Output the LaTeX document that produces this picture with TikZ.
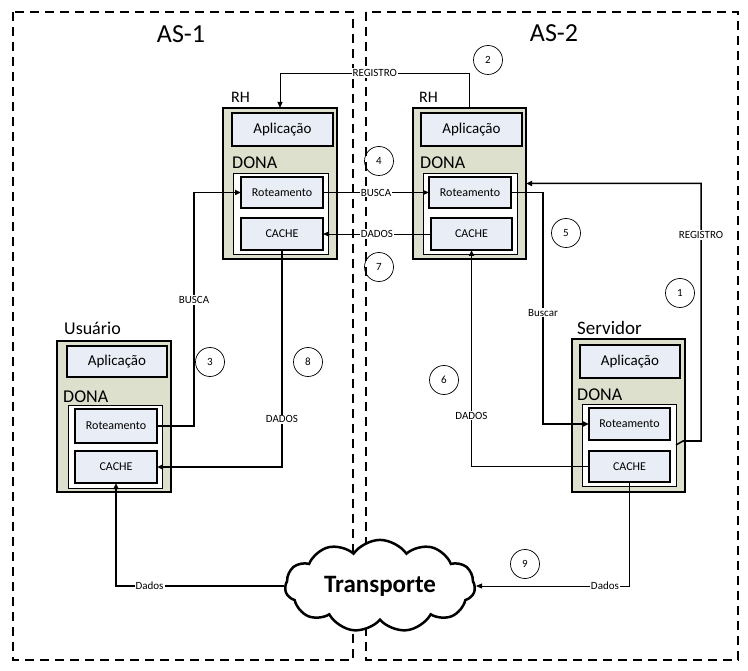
\documentclass[tikz,border=0pt]{standalone}
\usepackage{fontspec}
\setmainfont{Carlito}
\usetikzlibrary{arrows.meta,shapes.symbols}
\definecolor{hostfill}{RGB}{221,224,205}
\definecolor{modfill}{RGB}{233,237,245}
\begin{document}
\begin{tikzpicture}[x=1pt,y=-1pt,
  host/.style={draw=black, line width=1.8pt, fill=hostfill, inner sep=0pt, outer sep=0pt},
  modbox/.style={draw=black, line width=1.3pt, fill=modfill, inner sep=0pt, outer sep=0pt},
  donabox/.style={draw=black, line width=0.8pt, fill=white, inner sep=0pt, outer sep=0pt},
  aplfont/.style={font=\fontsize{15}{17}\selectfont},
  smallfont/.style={font=\fontsize{12}{14}\selectfont},
  hosttitle/.style={anchor=west, inner sep=0pt, font=\fontsize{16}{18}\selectfont},
  donatitle/.style={anchor=west, inner sep=0pt, font=\fontsize{18}{20}\selectfont},
  astitle/.style={inner sep=0pt, font=\fontsize{26}{30}\selectfont},
  num/.style={circle, draw=black, line width=0.7pt, minimum size=29pt, inner sep=0pt, font=\fontsize{11}{13}\selectfont},
  lbl/.style={fill=white, inner sep=1pt, font=\fontsize{11}{13}\selectfont},
  conn/.style={line width=0.8pt},
  thk/.style={line width=1.5pt},
  tip/.style={-{Triangle[length=6pt,width=5pt]}},
  asone/.style={line width=1.3pt, dash pattern=on 9pt off 6pt},
  astwo/.style={line width=2pt, dash pattern=on 9pt off 6pt}
]
\useasboundingbox (0,0) rectangle (748,671);

% Autonomous systems
\draw[asone] (13,12) rectangle (353,660);
\draw[astwo] (366,12) rectangle (738,660);
\node[astitle] (as1) at (181,34) {AS-1};
\node[astitle] (as2) at (554,33) {AS-2};

% Left RH
\node[host, minimum width=114pt, minimum height=151pt] (rhL) at (280,183.5) {};
\node[hosttitle] (rhLt) at (231,97) {RH};
\node[modbox, aplfont, minimum width=101pt, minimum height=33pt] (aplL) at (282.5,129.5) {Aplicação};
\node[donatitle] (donaLt) at (232,163) {DONA};
\node[donabox, minimum width=95pt, minimum height=81pt] (dL) at (280.5,213.5) {};
\node[modbox, smallfont, minimum width=82pt, minimum height=31pt] (rotL) at (282,192.5) {Roteamento};
\node[modbox, smallfont, minimum width=82pt, minimum height=32pt] (cacheL) at (282,234) {CACHE};

% Right RH
\node[host, minimum width=113pt, minimum height=151pt] (rhR) at (469.5,183.5) {};
\node[hosttitle] (rhRt) at (419,97) {RH};
\node[modbox, aplfont, minimum width=101pt, minimum height=33pt] (aplR) at (471.5,129.5) {Aplicação};
\node[donatitle] (donaRt) at (420,163) {DONA};
\node[donabox, minimum width=94pt, minimum height=81pt] (dR) at (470,213.5) {};
\node[modbox, smallfont, minimum width=82pt, minimum height=31pt] (rotR) at (470,192.5) {Roteamento};
\node[modbox, smallfont, minimum width=81pt, minimum height=32pt] (cacheR) at (471.5,234) {CACHE};

% Usuario
\node[host, minimum width=114pt, minimum height=151pt] (usr) at (114,416.5) {};
\node[hosttitle, font=\fontsize{18}{20}\selectfont] (usrt) at (64,328) {Usuário};
\node[modbox, aplfont, minimum width=100pt, minimum height=31pt] (uApl) at (117,361.5) {Aplicação};
\node[donatitle] (uDonat) at (63,397) {DONA};
\node[donabox, minimum width=94pt, minimum height=83pt] (uD) at (115,446.5) {};
\node[modbox, smallfont, minimum width=82pt, minimum height=34pt] (uRot) at (116,426) {Roteamento};
\node[modbox, smallfont, minimum width=82pt, minimum height=32pt] (uCache) at (116,467) {CACHE};

% Servidor
\node[host, minimum width=113pt, minimum height=153pt] (srv) at (628.5,415.5) {};
\node[hosttitle, font=\fontsize{19}{21}\selectfont] (srvt) at (577,328) {Servidor};
\node[modbox, aplfont, minimum width=100pt, minimum height=33pt] (sApl) at (630,361.5) {Aplicação};
\node[donatitle] (sDonat) at (577,395) {DONA};
\node[donabox, minimum width=94pt, minimum height=82pt] (sD) at (629,445) {};
\node[modbox, smallfont, minimum width=81pt, minimum height=32pt] (sRot) at (629.5,424) {Roteamento};
\node[modbox, smallfont, minimum width=81pt, minimum height=31pt] (sCache) at (629.5,466.5) {CACHE};

% Cloud
\node[cloud, cloud puffs=11, cloud puff arc=110, aspect=2.2, draw=black, line width=2.5pt, fill=white,
      minimum width=190pt, minimum height=86pt, inner sep=0pt,
      font=\bfseries\fontsize{25}{28}\selectfont] (cloud) at (380,586) {Transporte};

% Connectors
\draw[conn,tip] (rhR.north) -- ++(0,-35) -| node[lbl,pos=0.25]{REGISTRO} (rhL.north);
\draw[thk,tip] (uRot.east) -- ++(37,0) |- node[lbl,pos=0.27]{BUSCA} (rotL.west);
\draw[conn,tip] (rotL.east) -- node[lbl]{BUSCA} (rotR.west);
\draw[conn,tip] (cacheR.west) -- node[lbl]{DADOS} (cacheL.east);
\draw[thk,tip] (cacheL.south) |- node[lbl,pos=0.39]{DADOS} (uCache.east);
\draw[thk,tip] (cloud.west) -| node[lbl,pos=0.4]{Dados} (uCache.south);
\draw[conn,tip] (sCache.south) |- node[lbl,pos=0.58]{Dados} (cloud.east);
\draw[thk,tip] (rotR.east) -- ++(32,0) |- node[lbl,pos=0.26]{Buscar} (sRot.west);
\draw[thk,tip] (sD.east) -- ++(7,-4) -- ++(18,0) |- node[lbl,pos=0.4]{REGISTRO} (rhR.east);
\draw[thk,tip] (sCache.west) -| node[lbl,pos=0.617]{DADOS} (cacheR.south);

% Step numbers
\node[num] (n1) at (680,293) {1};
\node[num] (n2) at (488,60) {2};
\node[num] (n3) at (210,362) {3};
\node[num] (n4) at (379,161) {4};
\node[num] (n5) at (566,233) {5};
\node[num] (n6) at (444,380) {6};
\node[num] (n7) at (379,267) {7};
\node[num] (n8) at (308,362) {8};
\node[num] (n9) at (525,564) {9};
\end{tikzpicture}
\end{document}
